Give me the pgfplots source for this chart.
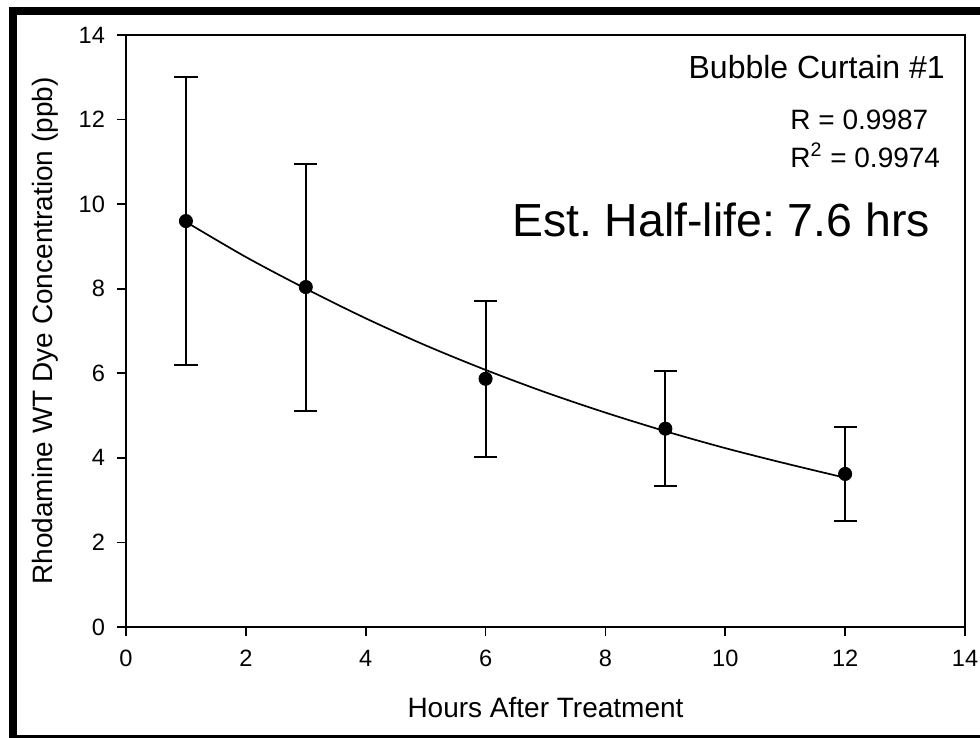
\documentclass[border=0pt]{standalone}
\usepackage{pgfplots}
\pgfplotsset{compat=1.18}
\usepackage{fontspec}
\setmainfont{Liberation Sans}
\frenchspacing
\begin{document}
\begin{tikzpicture}
\useasboundingbox (0pt,0pt) rectangle (490pt,-369pt);
\begin{scope}
\clip (0pt,0pt) rectangle (490pt,-369pt);
\draw[line width=4pt] (6.5pt,-5.75pt) rectangle (500pt,-369.5pt);
\end{scope}
\begin{axis}[
  at={(63pt,-313.5pt)}, anchor=south west,
  scale only axis, width=419.5pt, height=296pt,
  xmin=0, xmax=14, ymin=0, ymax=14,
  xtick={0,2,...,14}, ytick={0,2,...,14},
  xtick pos=bottom, ytick pos=left,
  tick align=outside, major tick length=4.5pt,
  every tick/.style={black, line width=0.9pt},
  axis line style={line width=0.9pt},
  /pgf/number format/assume math mode=true,
  tick label style={font=\fontsize{11.8}{11.8}\selectfont},
  xticklabel style={yshift=-3.5pt},
  yticklabel style={xshift=-2.5pt},
  xlabel={Hours After Treatment},
  ylabel={Rhodamine WT Dye Concentration (ppb)},
  label style={font=\fontsize{14}{14}\selectfont},
  xlabel style={at={(axis description cs:0.5,-0.1368)}, anchor=center},
  ylabel style={at={(axis description cs:-0.0966,0.5)}, anchor=center},
  clip=false,
]
\addplot[black, line width=0.85pt, smooth] coordinates {
(1,9.58) (2,8.75) (3,8.0) (4,7.30) (5,6.66) (6,6.08) (7,5.55) (8,5.07) (9,4.63) (10,4.23) (11,3.87) (12,3.53)};
\addplot[black, only marks, mark=*, mark size=3.3pt,
  error bars/.cd, y dir=both, y explicit,
  error bar style={line width=1pt, black},
  error mark options={rotate=90, mark size=5.8pt, line width=1pt, black}]
coordinates {
(1,9.6) +- (0,3.4)
(3,8.04) +- (0,2.92)
(6,5.87) +- (0,1.84)
(9,4.69) +- (0,1.36)
(12,3.62) +- (0,1.11)
};
\node[anchor=east, inner sep=0, font=\fontsize{16}{16}\selectfont] at (axis cs:13.67,13.24) {Bubble Curtain \#1};
\node[anchor=west, inner sep=0, font=\fontsize{14}{14}\selectfont] at (axis cs:11.08,11.99) {R = 0.9987};
\node[anchor=west, inner sep=0, font=\fontsize{14}{14}\selectfont] at (axis cs:11.08,11.16) {R\textsuperscript{2} = 0.9974};
\node[anchor=east, inner sep=0, font=\fontsize{23.2}{23.2}\selectfont] at (axis cs:13.42,9.62) {Est. Half-life: 7.6 hrs};
\end{axis}
\end{tikzpicture}
\end{document}
